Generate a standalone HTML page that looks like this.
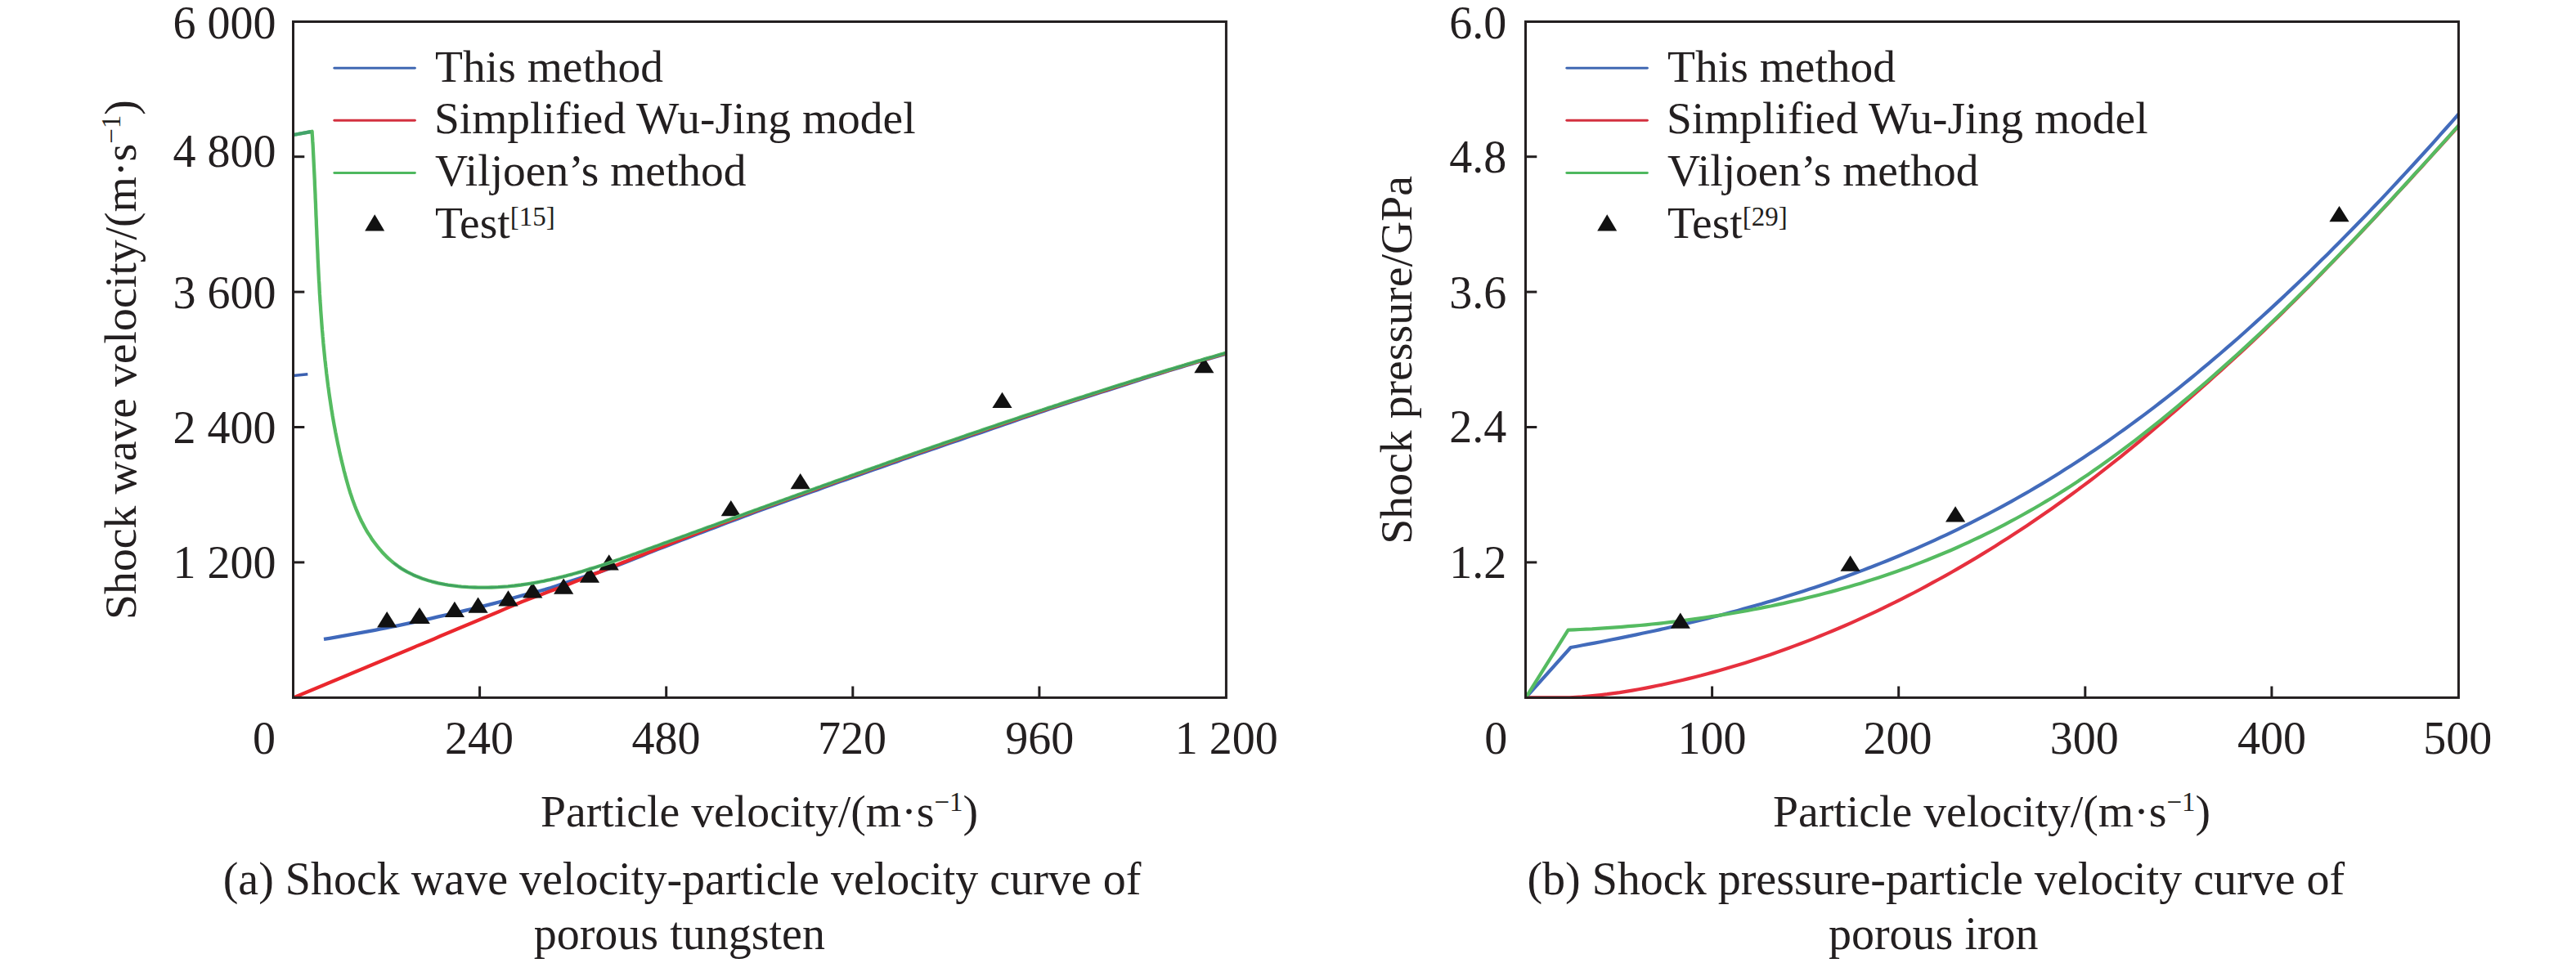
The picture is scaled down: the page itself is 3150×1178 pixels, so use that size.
<!DOCTYPE html>
<html lang="en"><head><meta charset="utf-8"><title>Shock curves of porous tungsten and porous iron</title>
<style>html,body{margin:0;padding:0;background:#fff}body{width:3150px;height:1178px}svg{display:block}text{font-family:"Liberation Serif",serif;font-size:56px;fill:#231f20}.sup{font-size:33px}.lg text{font-size:55.5px}text.ttl{font-size:55.75px}.lg .sup{font-size:33px}.c{fill:none;stroke-width:4.2;stroke-linejoin:round;stroke-linecap:butt}.c2{fill:none;stroke-linejoin:round;stroke-linecap:butt}</style></head><body>
<svg width="3150" height="1178" viewBox="0 0 3150 1178">
<rect width="3150" height="1178" fill="#fff"/>
<defs><clipPath id="ca"><rect x="357" y="25" width="1143.9" height="829.9"/></clipPath><clipPath id="cb"><rect x="1864" y="25" width="1143.9" height="829.9"/></clipPath></defs>
<g id="plot-a">
<g clip-path="url(#ca)">
<g stroke-width="4.3"><path class="c2" stroke="#3f68bb" d="M396.0,781.9 L402.9,780.8 L409.9,779.6 L416.8,778.4 L423.8,777.2 L430.7,775.9 L437.6,774.7 L444.6,773.4 L451.5,772.1 L458.5,770.8 L465.4,769.4 L472.3,768.1 L479.3,766.7 L486.2,765.3 L493.1,763.8 L500.1,762.4 L507.0,760.9 L514.0,759.4 L520.9,757.8 L527.8,756.3 L534.8,754.7 L541.7,753.1 L548.7,751.5 L555.6,749.9 L562.5,748.3 L569.5,746.7 L576.4,745.0 L583.4,743.3 L590.3,741.6 L597.2,739.9 L604.2,738.1 L611.1,736.2 L618.0,734.3 L625.0,732.3 L631.9,730.3 L638.9,728.4 L645.8,726.6 L652.7,724.8 L659.7,723.0 L666.6,721.1 L673.6,719.0 L680.5,716.7 L687.4,714.4 L694.4,712.1 L701.3,709.8 L708.3,707.5 L715.2,705.3 L722.1,703.2 L729.1,701.0 L736.0,698.7 L742.9,696.3 L749.9,693.7 L756.8,691.0 L763.8,688.3 L770.7,685.5 L777.6,682.7 L784.6,679.9 L791.5,677.1 L798.5,674.3 L805.4,671.6 L812.3,668.9 L819.3,666.2 L826.2,663.5 L833.2,660.8 L840.1,658.2 L847.0,655.5 L854.0,652.8 L860.9,650.2 L867.9,647.6 L874.8,644.9 L881.7,642.3 L888.7,639.6 L895.6,637.0 L902.5,634.4 L909.5,631.8 L916.4,629.2 L923.4,626.6 L930.3,624.1 L937.2,621.5 L944.2,619.0 L951.1,616.5 L958.1,614.0 L965.0,611.5 L971.9,609.0 L978.9,606.5 L985.8,604.0 L992.8,601.5 L999.7,599.1 L1006.6,596.6 L1013.6,594.1 L1020.5,591.6 L1027.4,589.1 L1034.4,586.7 L1041.3,584.2 L1048.3,581.7 L1055.2,579.3 L1062.1,576.8 L1069.1,574.3 L1076.0,571.9 L1083.0,569.4 L1089.9,567.0 L1096.8,564.6 L1103.8,562.1 L1110.7,559.7 L1117.7,557.3 L1124.6,554.8 L1131.5,552.4 L1138.5,550.0 L1145.4,547.6 L1152.4,545.2 L1159.3,542.8 L1166.2,540.5 L1173.2,538.1 L1180.1,535.7 L1187.0,533.3 L1194.0,531.0 L1200.9,528.6 L1207.9,526.2 L1214.8,523.8 L1221.7,521.4 L1228.7,519.0 L1235.6,516.6 L1242.6,514.2 L1249.5,511.8 L1256.4,509.5 L1263.4,507.1 L1270.3,504.7 L1277.3,502.4 L1284.2,500.0 L1291.1,497.7 L1298.1,495.4 L1305.0,493.2 L1311.9,490.9 L1318.9,488.7 L1325.8,486.5 L1332.8,484.2 L1339.7,482.0 L1346.6,479.8 L1353.6,477.6 L1360.5,475.4 L1367.5,473.2 L1374.4,470.9 L1381.3,468.7 L1388.3,466.5 L1395.2,464.2 L1402.2,462.0 L1409.1,459.8 L1416.0,457.6 L1423.0,455.4 L1429.9,453.3 L1436.8,451.2 L1443.8,449.1 L1450.7,447.0 L1457.7,444.9 L1464.6,442.8 L1471.5,440.8 L1478.5,438.7 L1485.4,436.7 L1492.4,434.7 L1499.3,432.7"/>
<path class="c2" stroke-width="3.4" stroke="#3b60b0" d="M358.8,459.5 L376.3,457.8"/>
<path class="c2" stroke="#ea272d" d="M358.8,853.4 L366.0,850.4 L373.1,847.4 L380.3,844.4 L387.5,841.5 L394.7,838.5 L401.8,835.5 L409.0,832.5 L416.2,829.5 L423.4,826.5 L430.5,823.5 L437.7,820.5 L444.9,817.5 L452.0,814.5 L459.2,811.5 L466.4,808.5 L473.6,805.5 L480.7,802.5 L487.9,799.5 L495.1,796.5 L502.3,793.5 L509.4,790.4 L516.6,787.4 L523.8,784.4 L531.0,781.4 L538.1,778.3 L545.3,775.3 L552.5,772.3 L559.6,769.2 L566.8,766.2 L574.0,763.2 L581.2,760.2 L588.3,757.2 L595.5,754.2 L602.7,751.2 L609.9,748.2 L617.0,745.1 L624.2,742.1 L631.4,739.1 L638.5,736.1 L645.7,733.3 L652.9,730.5 L660.1,727.9 L667.2,725.3 L674.4,722.6 L681.6,719.9 L688.8,717.2 L695.9,714.4 L703.1,711.6 L710.3,708.8 L717.4,705.9 L724.6,703.1 L731.8,700.2 L739.0,697.3 L746.1,694.4 L753.3,691.5 L760.5,688.6 L767.7,685.7 L774.8,682.8 L782.0,679.9 L789.2,677.0 L796.4,674.2 L803.5,671.3 L810.7,668.4 L817.9,665.6 L825.0,662.7 L832.2,659.9 L839.4,657.1 L846.6,654.2 L853.7,651.4 L860.9,648.6 L868.1,645.9 L875.3,643.1 L882.4,640.4 L889.6,637.7 L896.8,634.9 L903.9,632.3 L911.1,629.6 L918.3,626.9 L925.5,624.2 L932.6,621.6 L939.8,619.0 L947.0,616.4 L954.2,613.8 L961.3,611.2 L968.5,608.6 L975.7,606.1 L982.8,603.5 L990.0,600.9 L997.2,598.4 L1004.4,595.8 L1011.5,593.2 L1018.7,590.7 L1025.9,588.1 L1033.1,585.5 L1040.2,583.0 L1047.4,580.4 L1054.6,577.9 L1061.7,575.3 L1068.9,572.8 L1076.1,570.3 L1083.3,567.7 L1090.4,565.2 L1097.6,562.7 L1104.8,560.2 L1112.0,557.7 L1119.1,555.1 L1126.3,552.6 L1133.5,550.2 L1140.7,547.7 L1147.8,545.2 L1155.0,542.7 L1162.2,540.2 L1169.3,537.8 L1176.5,535.3 L1183.7,532.8 L1190.9,530.4 L1198.0,527.9 L1205.2,525.5 L1212.4,523.1 L1219.6,520.6 L1226.7,518.2 L1233.9,515.8 L1241.1,513.4 L1248.2,511.0 L1255.4,508.6 L1262.6,506.2 L1269.8,503.8 L1276.9,501.4 L1284.1,499.0 L1291.3,496.7 L1298.5,494.3 L1305.6,492.0 L1312.8,489.7 L1320.0,487.4 L1327.1,485.0 L1334.3,482.7 L1341.5,480.4 L1348.7,478.2 L1355.8,475.9 L1363.0,473.6 L1370.2,471.3 L1377.4,469.1 L1384.5,466.8 L1391.7,464.5 L1398.9,462.3 L1406.1,460.0 L1413.2,457.8 L1420.4,455.6 L1427.6,453.4 L1434.7,451.2 L1441.9,449.0 L1449.1,446.9 L1456.3,444.7 L1463.4,442.6 L1470.6,440.5 L1477.8,438.4 L1485.0,436.3 L1492.1,434.2 L1499.3,432.1"/></g>
<g fill="#111"><path d="M461.1,767.4 L485.3,767.4 L473.2,748.1Z"/><path d="M543.8,755.0 L568.0,755.0 L555.9,735.7Z"/><path d="M572.5,749.8 L596.7,749.8 L584.6,730.5Z"/><path d="M609.4,741.5 L633.6,741.5 L621.5,722.2Z"/><path d="M639.2,731.6 L663.4,731.6 L651.3,712.3Z"/><path d="M677.1,726.7 L701.3,726.7 L689.2,707.4Z"/><path d="M708.9,712.7 L733.1,712.7 L721.0,693.4Z"/><path d="M732.6,697.6 L756.8,697.6 L744.7,678.3Z"/><path d="M881.7,631.2 L905.9,631.2 L893.8,611.9Z"/><path d="M966.6,598.2 L990.8,598.2 L978.7,578.9Z"/><path d="M1213.4,499.0 L1237.6,499.0 L1225.5,479.7Z"/><path d="M1460.3,456.3 L1484.5,456.3 L1472.4,437.0Z"/><path d="M500.1,762.9 L525.9,762.9 L513.0,742.9Z"/></g>
<path class="c2" stroke-width="4.3" stroke="#55bb61" d="M358.8,165.0 L381.6,160.8 L381.8,164.8 L382.1,168.9 L382.3,172.9 L382.6,177.0 L382.8,181.0 L383.0,185.1 L383.2,189.1 L383.4,193.2 L383.6,197.2 L383.8,201.3 L384.0,205.3 L384.2,209.4 L384.4,213.4 L384.6,217.5 L384.8,221.5 L384.9,225.6 L385.1,229.6 L385.3,233.7 L385.5,237.8 L385.6,241.8 L385.8,245.9 L386.0,249.9 L386.1,254.0 L386.3,258.0 L386.4,262.1 L386.6,266.1 L386.8,270.2 L386.9,274.3 L387.1,278.3 L387.3,282.4 L387.4,286.4 L387.6,290.5 L387.8,294.5 L387.9,298.6 L388.1,302.7 L388.3,306.7 L388.5,310.8 L388.6,314.8 L388.8,318.9 L389.0,322.9 L389.2,327.0 L389.4,331.0 L389.6,335.1 L389.8,339.1 L390.0,343.2 L390.3,347.2 L390.5,351.3 L390.7,355.3 L390.9,359.4 L391.2,363.4 L391.4,367.5 L391.7,371.5 L392.0,375.6 L392.2,379.6 L392.5,383.7 L392.8,387.7 L393.1,391.7 L393.4,395.8 L393.7,399.8 L394.0,403.9 L394.4,407.9 L394.7,411.9 L395.1,416.0 L395.4,420.0 L395.8,424.0 L396.2,428.1 L396.6,432.1 L397.0,436.1 L397.4,440.2 L397.9,444.2 L398.3,448.2 L398.8,452.2 L399.2,456.3 L399.7,460.3 L400.2,464.3 L400.7,468.3 L401.2,472.3 L401.8,476.3 L402.3,480.3 L402.9,484.4 L403.5,488.4 L404.1,492.4 L404.7,496.4 L405.3,500.4 L406.0,504.4 L406.6,508.4 L407.3,512.4 L408.0,516.4 L408.7,520.3 L409.5,524.3 L410.2,528.3 L411.0,532.3 L411.8,536.3 L412.6,540.3 L413.4,544.2 L414.3,548.2 L415.1,552.2 L416.0,556.2 L416.9,560.1 L417.8,564.1 L418.8,568.1 L419.8,572.0 L420.7,576.0 L421.8,579.9 L422.8,583.9 L423.9,587.8 L425.0,591.8 L426.1,595.7 L427.3,599.6 L428.5,603.5 L429.8,607.3 L431.1,611.2 L432.5,615.0 L433.9,618.8 L435.4,622.6 L437.0,626.4 L438.6,630.1 L440.3,633.8 L442.0,637.5 L443.9,641.1 L445.8,644.7 L447.8,648.3 L449.9,651.8 L452.1,655.2 L454.3,658.7 L456.6,662.0 L459.1,665.3 L461.6,668.5 L464.2,671.7 L466.8,674.7 L469.6,677.7 L472.4,680.6 L475.3,683.4 L478.3,686.0 L481.4,688.6 L484.6,691.0 L487.8,693.4 L491.1,695.6 L494.5,697.6 L498.0,699.6 L501.6,701.4 L505.2,703.2 L508.8,704.8 L512.6,706.3 L516.3,707.7 L520.2,709.0 L524.0,710.2 L527.9,711.3 L531.9,712.3 L535.9,713.3 L539.9,714.1 L543.9,714.9 L548.0,715.6 L552.1,716.2 L556.1,716.7 L560.2,717.2 L564.3,717.6 L568.4,717.9 L572.5,718.2 L576.6,718.4 L580.7,718.5 L584.8,718.7 L588.9,718.7 L592.9,718.7 L597.0,718.6 L601.0,718.5 L605.0,718.4 L609.1,718.2 L613.1,717.9 L617.1,717.6 L621.1,717.3 L625.1,716.9 L629.1,716.5 L633.1,716.0 L637.1,715.5 L641.1,714.9 L645.0,714.3 L649.0,713.7 L653.0,713.0 L656.9,712.3 L660.9,711.5 L664.8,710.8 L668.7,709.9 L672.7,709.1 L676.6,708.2 L680.5,707.3 L684.4,706.3 L688.4,705.4 L692.3,704.4 L696.2,703.3 L700.1,702.3 L704.0,701.2 L707.9,700.1 L711.8,699.0 L715.6,697.8 L719.5,696.6 L723.4,695.4 L727.3,694.2 L731.1,693.0 L735.0,691.8 L738.9,690.5 L742.7,689.2 L746.6,687.9 L750.5,686.6 L754.3,685.3 L758.2,684.0 L762.0,682.6 L765.9,681.3 L769.7,679.9 L773.6,678.5 L777.4,677.2 L781.2,675.8 L785.1,674.4 L788.9,673.0 L792.8,671.6 L796.6,670.2 L800.4,668.8 L804.3,667.4 L808.1,666.0 L811.9,664.6 L815.8,663.2 L819.6,661.8 L823.4,660.5 L827.3,659.1 L831.1,657.7 L834.9,656.3 L838.8,654.9 L842.6,653.5 L846.4,652.1 L850.3,650.7 L854.1,649.3 L857.9,647.9 L861.7,646.5 L865.6,645.1 L869.4,643.8 L873.2,642.4 L877.0,641.0 L880.9,639.6 L884.7,638.2 L888.5,636.8 L892.3,635.4 L896.1,634.0 L900.0,632.7 L903.8,631.3 L907.6,629.9 L911.4,628.5 L915.3,627.1 L919.1,625.7 L922.9,624.3 L926.7,623.0 L930.5,621.6 L934.4,620.2 L938.2,618.8 L942.0,617.4 L945.8,616.1 L949.6,614.7 L953.4,613.3 L957.3,611.9 L961.1,610.5 L964.9,609.2 L968.7,607.8 L972.5,606.4 L976.3,605.0 L980.2,603.7 L984.0,602.3 L987.8,600.9 L991.6,599.6 L995.4,598.2 L999.2,596.8 L1003.1,595.5 L1006.9,594.1 L1010.7,592.7 L1014.5,591.4 L1018.3,590.0 L1022.1,588.6 L1025.9,587.3 L1029.8,585.9 L1033.6,584.5 L1037.4,583.2 L1041.2,581.8 L1045.0,580.5 L1048.8,579.1 L1052.7,577.8 L1056.5,576.4 L1060.3,575.1 L1064.1,573.7 L1067.9,572.4 L1071.7,571.0 L1075.6,569.7 L1079.4,568.3 L1083.2,567.0 L1087.0,565.6 L1090.8,564.3 L1094.6,562.9 L1098.5,561.6 L1102.3,560.2 L1106.1,558.9 L1109.9,557.6 L1113.7,556.2 L1117.6,554.9 L1121.4,553.6 L1125.2,552.2 L1129.0,550.9 L1132.8,549.6 L1136.7,548.2 L1140.5,546.9 L1144.3,545.6 L1148.1,544.3 L1151.9,542.9 L1155.8,541.6 L1159.6,540.3 L1163.4,539.0 L1167.2,537.7 L1171.1,536.4 L1174.9,535.0 L1178.7,533.7 L1182.5,532.4 L1186.4,531.1 L1190.2,529.8 L1194.0,528.5 L1197.9,527.2 L1201.7,525.9 L1205.5,524.6 L1209.3,523.3 L1213.2,522.0 L1217.0,520.7 L1220.8,519.4 L1224.7,518.1 L1228.5,516.8 L1232.3,515.5 L1236.2,514.2 L1240.0,513.0 L1243.8,511.7 L1247.7,510.4 L1251.5,509.1 L1255.4,507.8 L1259.2,506.6 L1263.0,505.3 L1266.9,504.0 L1270.7,502.7 L1274.6,501.5 L1278.4,500.2 L1282.3,498.9 L1286.1,497.7 L1290.0,496.4 L1293.8,495.2 L1297.6,493.9 L1301.5,492.6 L1305.3,491.4 L1309.2,490.1 L1313.0,488.9 L1316.9,487.6 L1320.8,486.4 L1324.6,485.2 L1328.5,483.9 L1332.3,482.7 L1336.2,481.4 L1340.0,480.2 L1343.9,479.0 L1347.8,477.7 L1351.6,476.5 L1355.5,475.3 L1359.3,474.1 L1363.2,472.8 L1367.1,471.6 L1370.9,470.4 L1374.8,469.2 L1378.7,468.0 L1382.6,466.8 L1386.4,465.6 L1390.3,464.4 L1394.2,463.2 L1398.1,461.9 L1401.9,460.8 L1405.8,459.6 L1409.7,458.4 L1413.6,457.2 L1417.5,456.0 L1421.3,454.8 L1425.2,453.6 L1429.1,452.4 L1433.0,451.2 L1436.9,450.1 L1440.8,448.9 L1444.7,447.7 L1448.6,446.6 L1452.5,445.4 L1456.3,444.2 L1460.2,443.1 L1464.1,441.9 L1468.0,440.8 L1471.9,439.6 L1475.8,438.4 L1479.8,437.3 L1483.7,436.2 L1487.6,435.0 L1491.5,433.9 L1495.4,432.7 L1499.3,431.6"/>
<path class="c2" stroke-width="2.1" stroke="#3a9862" stroke-opacity="0.85" d="M481.4,688.6 L484.6,691.0 L487.8,693.4 L491.1,695.6 L494.5,697.6 L498.0,699.6 L501.6,701.4 L505.2,703.2 L508.8,704.8 L512.6,706.3 L516.3,707.7 L520.2,709.0 L524.0,710.2 L527.9,711.3 L531.9,712.3 L535.9,713.3 L539.9,714.1 L543.9,714.9 L548.0,715.6 L552.1,716.2 L556.1,716.7 L560.2,717.2 L564.3,717.6 L568.4,717.9 L572.5,718.2 L576.6,718.4 L580.7,718.5 L584.8,718.7 L588.9,718.7 L592.9,718.7 L597.0,718.6 L601.0,718.5 L605.0,718.4 L609.1,718.2 L613.1,717.9 L617.1,717.6 L621.1,717.3 L625.1,716.9 L629.1,716.5 L633.1,716.0 L637.1,715.5 L641.1,714.9 L645.0,714.3 L649.0,713.7 L653.0,713.0 L656.9,712.3 L660.9,711.5 L664.8,710.8 L668.7,709.9 L672.7,709.1 L676.6,708.2 L680.5,707.3 L684.4,706.3 L688.4,705.4 L692.3,704.4 L696.2,703.3 L700.1,702.3 L704.0,701.2 L707.9,700.1 L711.8,699.0 L715.6,697.8 L719.5,696.6 L723.4,695.4 L727.3,694.2 L731.1,693.0 L735.0,691.8 L738.9,690.5 L742.7,689.2 L746.6,687.9 L750.5,686.6 L754.3,685.3 L758.2,684.0 L762.0,682.6 L765.9,681.3 L769.7,679.9 L773.6,678.5 L777.4,677.2 L781.2,675.8 L785.1,674.4 L788.9,673.0 L792.8,671.6 L796.6,670.2 L800.4,668.8 L804.3,667.4 L808.1,666.0 L811.9,664.6 L815.8,663.2 L819.6,661.8 L823.4,660.5 L827.3,659.1 L831.1,657.7 L834.9,656.3 L838.8,654.9 L842.6,653.5 L846.4,652.1 L850.3,650.7 L854.1,649.3 L857.9,647.9 L861.7,646.5 L865.6,645.1 L869.4,643.8 L873.2,642.4 L877.0,641.0 L880.9,639.6 L884.7,638.2 L888.5,636.8 L892.3,635.4 L896.1,634.0 L900.0,632.7 L903.8,631.3 L907.6,629.9 L911.4,628.5 L915.3,627.1 L919.1,625.7 L922.9,624.3 L926.7,623.0 L930.5,621.6 L934.4,620.2 L938.2,618.8 L942.0,617.4 L945.8,616.1 L949.6,614.7 L953.4,613.3 L957.3,611.9 L961.1,610.5 L964.9,609.2 L968.7,607.8 L972.5,606.4 L976.3,605.0 L980.2,603.7 L984.0,602.3 L987.8,600.9 L991.6,599.6 L995.4,598.2 L999.2,596.8 L1003.1,595.5 L1006.9,594.1 L1010.7,592.7 L1014.5,591.4 L1018.3,590.0 L1022.1,588.6 L1025.9,587.3 L1029.8,585.9 L1033.6,584.5 L1037.4,583.2 L1041.2,581.8 L1045.0,580.5 L1048.8,579.1 L1052.7,577.8 L1056.5,576.4 L1060.3,575.1 L1064.1,573.7 L1067.9,572.4 L1071.7,571.0 L1075.6,569.7 L1079.4,568.3 L1083.2,567.0 L1087.0,565.6 L1090.8,564.3 L1094.6,562.9 L1098.5,561.6 L1102.3,560.2 L1106.1,558.9 L1109.9,557.6 L1113.7,556.2 L1117.6,554.9 L1121.4,553.6 L1125.2,552.2 L1129.0,550.9 L1132.8,549.6 L1136.7,548.2 L1140.5,546.9 L1144.3,545.6 L1148.1,544.3 L1151.9,542.9 L1155.8,541.6 L1159.6,540.3 L1163.4,539.0 L1167.2,537.7 L1171.1,536.4 L1174.9,535.0 L1178.7,533.7 L1182.5,532.4 L1186.4,531.1 L1190.2,529.8 L1194.0,528.5 L1197.9,527.2 L1201.7,525.9 L1205.5,524.6 L1209.3,523.3 L1213.2,522.0 L1217.0,520.7 L1220.8,519.4 L1224.7,518.1 L1228.5,516.8 L1232.3,515.5 L1236.2,514.2 L1240.0,513.0 L1243.8,511.7 L1247.7,510.4 L1251.5,509.1 L1255.4,507.8 L1259.2,506.6 L1263.0,505.3 L1266.9,504.0 L1270.7,502.7 L1274.6,501.5 L1278.4,500.2 L1282.3,498.9 L1286.1,497.7 L1290.0,496.4 L1293.8,495.2 L1297.6,493.9 L1301.5,492.6 L1305.3,491.4 L1309.2,490.1 L1313.0,488.9 L1316.9,487.6 L1320.8,486.4 L1324.6,485.2 L1328.5,483.9 L1332.3,482.7 L1336.2,481.4 L1340.0,480.2 L1343.9,479.0 L1347.8,477.7 L1351.6,476.5 L1355.5,475.3 L1359.3,474.1 L1363.2,472.8 L1367.1,471.6 L1370.9,470.4 L1374.8,469.2 L1378.7,468.0 L1382.6,466.8 L1386.4,465.6 L1390.3,464.4 L1394.2,463.2 L1398.1,461.9 L1401.9,460.8 L1405.8,459.6 L1409.7,458.4 L1413.6,457.2 L1417.5,456.0 L1421.3,454.8 L1425.2,453.6 L1429.1,452.4 L1433.0,451.2 L1436.9,450.1 L1440.8,448.9 L1444.7,447.7 L1448.6,446.6 L1452.5,445.4 L1456.3,444.2 L1460.2,443.1 L1464.1,441.9 L1468.0,440.8 L1471.9,439.6 L1475.8,438.4 L1479.8,437.3 L1483.7,436.2 L1487.6,435.0 L1491.5,433.9 L1495.4,432.7 L1499.3,431.6"/>
<path class="c2" stroke-width="4.3" stroke="#3f9f6c" stroke-opacity="0.85" d="M358.8,165.0 L379.8,161.1"/>
</g>
<g stroke="#231f20" stroke-width="3" fill="none"><rect x="358.5" y="26.5" width="1140.9" height="826.9"/><path d="M358.5,687.9 h13.8"/><path d="M586.6,853.4 v-13.9"/><path d="M358.5,522.5 h13.8"/><path d="M814.7,853.4 v-13.9"/><path d="M358.5,357.1 h13.8"/><path d="M1042.8,853.4 v-13.9"/><path d="M358.5,191.7 h13.8"/><path d="M1270.9,853.4 v-13.9"/></g>
<g stroke-width="2.9" fill="none" stroke-linecap="round"><path d="M408.8,83.3 H507.4" stroke="#4068b3"/><path d="M408.8,147.3 H507.4" stroke="#d3303f"/><path d="M408.8,211.5 H507.4" stroke="#4fb85f"/></g><g fill="#111"><path d="M446.2,282.6 L470.2,282.6 L458.2,262.2Z"/></g><g class="lg"><text x="532.1" y="100.3">This method</text><text x="530.9" y="163.3">Simplified Wu-Jing model</text><text x="532.1" y="227">Viljoen’s method</text><text x="532.1" y="290.9">Test<tspan class="sup" dy="-15.4">[15]</tspan></text></g>
<text x="337.4" y="46.6" text-anchor="end">6 000</text>
<text x="337.4" y="203.6" text-anchor="end">4 800</text>
<text x="337.4" y="376.5" text-anchor="end">3 600</text>
<text x="337.4" y="541.6" text-anchor="end">2 400</text>
<text x="337.4" y="706.5" text-anchor="end">1 200</text>
<text x="322.9" y="922" text-anchor="middle">0</text>
<text x="586.0" y="922" text-anchor="middle">240</text>
<text x="814.6" y="922" text-anchor="middle">480</text>
<text x="1042.0" y="922" text-anchor="middle">720</text>
<text x="1271.3" y="922" text-anchor="middle">960</text>
<text x="1499.8" y="922" text-anchor="middle">1 200</text>
<text class="ttl" x="928.6" y="1011" text-anchor="middle">Particle velocity/(m·s<tspan class="sup" dy="-19.3">−1</tspan><tspan dy="19.3">)</tspan></text>
<text class="ttl" transform="translate(166.0 440.0) rotate(-90)" text-anchor="middle">Shock wave velocity/(m·s<tspan class="sup" dy="-19.3">−1</tspan><tspan dy="19.3">)</tspan></text>
<text x="834.0" y="1094.2" text-anchor="middle">(a) Shock wave velocity-particle velocity curve of</text>
<text x="830.8" y="1161.2" text-anchor="middle">porous tungsten</text>
</g>
<g id="plot-b">
<g clip-path="url(#cb)">
<path class="c" stroke="#426bbb" d="M1865.8,853.4 L1920.7,792.0 L1928.0,790.7 L1935.3,789.3 L1942.6,787.9 L1949.8,786.6 L1957.1,785.2 L1964.4,783.8 L1971.7,782.3 L1979.0,780.9 L1986.3,779.4 L1993.6,777.9 L2000.9,776.4 L2008.1,774.8 L2015.4,773.3 L2022.7,771.7 L2030.0,770.1 L2037.3,768.5 L2044.6,766.8 L2051.9,765.2 L2059.2,763.5 L2066.4,761.7 L2073.7,760.0 L2081.0,758.2 L2088.3,756.4 L2095.6,754.5 L2102.9,752.7 L2110.2,750.8 L2117.5,748.9 L2124.7,746.9 L2132.0,744.9 L2139.3,742.9 L2146.6,740.8 L2153.9,738.8 L2161.2,736.6 L2168.5,734.5 L2175.8,732.3 L2183.0,730.1 L2190.3,727.8 L2197.6,725.5 L2204.9,723.2 L2212.2,720.8 L2219.5,718.4 L2226.8,715.9 L2234.1,713.4 L2241.3,710.9 L2248.6,708.3 L2255.9,705.7 L2263.2,703.0 L2270.5,700.3 L2277.8,697.6 L2285.1,694.8 L2292.3,692.0 L2299.6,689.1 L2306.9,686.2 L2314.2,683.2 L2321.5,680.2 L2328.8,677.1 L2336.1,674.0 L2343.4,670.8 L2350.6,667.6 L2357.9,664.4 L2365.2,661.1 L2372.5,657.7 L2379.8,654.3 L2387.1,650.8 L2394.4,647.3 L2401.7,643.7 L2408.9,640.1 L2416.2,636.4 L2423.5,632.7 L2430.8,628.9 L2438.1,625.0 L2445.4,621.1 L2452.7,617.1 L2460.0,613.1 L2467.2,609.0 L2474.5,604.9 L2481.8,600.7 L2489.1,596.4 L2496.4,592.1 L2503.7,587.7 L2511.0,583.2 L2518.3,578.7 L2525.5,574.1 L2532.8,569.5 L2540.1,564.8 L2547.4,560.0 L2554.7,555.1 L2562.0,550.2 L2569.3,545.3 L2576.6,540.2 L2583.8,535.1 L2591.1,529.9 L2598.4,524.7 L2605.7,519.4 L2613.0,514.0 L2620.3,508.6 L2627.6,503.1 L2634.9,497.6 L2642.1,492.0 L2649.4,486.3 L2656.7,480.6 L2664.0,474.8 L2671.3,468.9 L2678.6,463.0 L2685.9,457.0 L2693.1,450.9 L2700.4,444.8 L2707.7,438.7 L2715.0,432.5 L2722.3,426.2 L2729.6,419.9 L2736.9,413.5 L2744.2,407.0 L2751.4,400.5 L2758.7,393.9 L2766.0,387.3 L2773.3,380.6 L2780.6,373.9 L2787.9,367.1 L2795.2,360.3 L2802.5,353.4 L2809.7,346.4 L2817.0,339.4 L2824.3,332.4 L2831.6,325.2 L2838.9,318.1 L2846.2,310.9 L2853.5,303.6 L2860.8,296.3 L2868.0,288.9 L2875.3,281.5 L2882.6,274.0 L2889.9,266.5 L2897.2,258.9 L2904.5,251.3 L2911.8,243.6 L2919.1,235.9 L2926.3,228.1 L2933.6,220.3 L2940.9,212.4 L2948.2,204.5 L2955.5,196.5 L2962.8,188.5 L2970.1,180.5 L2977.4,172.4 L2984.6,164.2 L2991.9,156.0 L2999.2,147.8 L3006.5,139.5"/>
<path class="c" stroke="#e6303e" d="M1865.8,853.4 L1873.5,853.4 L1881.1,853.4 L1888.8,853.4 L1896.4,853.4 L1904.1,853.4 L1911.7,853.4 L1919.4,853.3 L1927.0,852.8 L1934.7,852.3 L1942.4,851.6 L1950.0,850.9 L1957.7,850.1 L1965.3,849.2 L1973.0,848.1 L1980.6,847.1 L1988.3,845.9 L1995.9,844.6 L2003.6,843.3 L2011.3,841.9 L2018.9,840.4 L2026.6,838.8 L2034.2,837.2 L2041.9,835.5 L2049.5,833.8 L2057.2,832.0 L2064.8,830.1 L2072.5,828.2 L2080.2,826.3 L2087.8,824.2 L2095.5,822.1 L2103.1,820.0 L2110.8,817.8 L2118.4,815.6 L2126.1,813.3 L2133.7,810.9 L2141.4,808.5 L2149.1,806.0 L2156.7,803.4 L2164.4,800.9 L2172.0,798.2 L2179.7,795.5 L2187.3,792.7 L2195.0,789.9 L2202.7,787.0 L2210.3,784.1 L2218.0,781.1 L2225.6,778.0 L2233.3,774.9 L2240.9,771.7 L2248.6,768.5 L2256.2,765.2 L2263.9,761.8 L2271.6,758.4 L2279.2,754.9 L2286.9,751.4 L2294.5,747.8 L2302.2,744.2 L2309.8,740.4 L2317.5,736.7 L2325.1,732.8 L2332.8,728.9 L2340.5,725.0 L2348.1,721.0 L2355.8,716.9 L2363.4,712.7 L2371.1,708.5 L2378.7,704.3 L2386.4,700.0 L2394.0,695.6 L2401.7,691.1 L2409.4,686.6 L2417.0,682.1 L2424.7,677.4 L2432.3,672.7 L2440.0,668.0 L2447.6,663.1 L2455.3,658.2 L2462.9,653.3 L2470.6,648.3 L2478.3,643.2 L2485.9,638.0 L2493.6,632.8 L2501.2,627.5 L2508.9,622.2 L2516.5,616.8 L2524.2,611.3 L2531.8,605.7 L2539.5,600.1 L2547.2,594.4 L2554.8,588.7 L2562.5,582.8 L2570.1,576.9 L2577.8,570.9 L2585.4,564.9 L2593.1,558.8 L2600.7,552.6 L2608.4,546.3 L2616.1,540.0 L2623.7,533.6 L2631.4,527.1 L2639.0,520.6 L2646.7,514.1 L2654.3,507.5 L2662.0,500.8 L2669.6,494.2 L2677.3,487.4 L2685.0,480.7 L2692.6,473.9 L2700.3,467.1 L2707.9,460.3 L2715.6,453.4 L2723.2,446.5 L2730.9,439.5 L2738.6,432.5 L2746.2,425.4 L2753.9,418.2 L2761.5,411.0 L2769.2,403.7 L2776.8,396.3 L2784.5,388.9 L2792.1,381.4 L2799.8,373.8 L2807.5,366.2 L2815.1,358.6 L2822.8,350.9 L2830.4,343.1 L2838.1,335.3 L2845.7,327.4 L2853.4,319.5 L2861.0,311.6 L2868.7,303.6 L2876.4,295.5 L2884.0,287.5 L2891.7,279.3 L2899.3,271.2 L2907.0,263.0 L2914.6,254.8 L2922.3,246.5 L2929.9,238.2 L2937.6,229.9 L2945.3,221.6 L2952.9,213.2 L2960.6,204.8 L2968.2,196.4 L2975.9,187.9 L2983.5,179.5 L2991.2,171.0 L2998.8,162.5 L3006.5,154.0"/>
<path class="c" stroke="#55bb61" d="M1865.8,853.4 L1917.6,770.6 L1924.9,770.3 L1932.2,770.0 L1939.5,769.6 L1946.8,769.3 L1954.1,768.8 L1961.4,768.4 L1968.8,767.9 L1976.1,767.4 L1983.4,766.8 L1990.7,766.2 L1998.0,765.6 L2005.3,765.0 L2012.6,764.3 L2019.9,763.5 L2027.2,762.8 L2034.5,762.0 L2041.8,761.1 L2049.1,760.3 L2056.5,759.3 L2063.8,758.4 L2071.1,757.4 L2078.4,756.4 L2085.7,755.3 L2093.0,754.2 L2100.3,753.1 L2107.6,751.9 L2114.9,750.7 L2122.2,749.5 L2129.5,748.2 L2136.8,746.9 L2144.1,745.5 L2151.5,744.1 L2158.8,742.6 L2166.1,741.2 L2173.4,739.6 L2180.7,738.1 L2188.0,736.4 L2195.3,734.8 L2202.6,733.1 L2209.9,731.3 L2217.2,729.5 L2224.5,727.7 L2231.8,725.8 L2239.2,723.9 L2246.5,721.9 L2253.8,719.8 L2261.1,717.7 L2268.4,715.6 L2275.7,713.4 L2283.0,711.1 L2290.3,708.8 L2297.6,706.4 L2304.9,704.0 L2312.2,701.5 L2319.5,698.9 L2326.9,696.3 L2334.2,693.7 L2341.5,690.9 L2348.8,688.1 L2356.1,685.3 L2363.4,682.3 L2370.7,679.3 L2378.0,676.3 L2385.3,673.2 L2392.6,670.0 L2399.9,666.7 L2407.2,663.4 L2414.5,659.9 L2421.9,656.5 L2429.2,652.9 L2436.5,649.3 L2443.8,645.6 L2451.1,641.8 L2458.4,637.9 L2465.7,634.0 L2473.0,630.0 L2480.3,625.9 L2487.6,621.7 L2494.9,617.5 L2502.2,613.1 L2509.6,608.7 L2516.9,604.2 L2524.2,599.6 L2531.5,594.9 L2538.8,590.2 L2546.1,585.3 L2553.4,580.4 L2560.7,575.3 L2568.0,570.2 L2575.3,565.0 L2582.6,559.8 L2589.9,554.4 L2597.2,549.0 L2604.6,543.4 L2611.9,537.8 L2619.2,532.2 L2626.5,526.5 L2633.8,520.7 L2641.1,514.8 L2648.4,508.9 L2655.7,502.9 L2663.0,496.8 L2670.3,490.7 L2677.6,484.6 L2684.9,478.4 L2692.3,472.1 L2699.6,465.8 L2706.9,459.4 L2714.2,452.9 L2721.5,446.4 L2728.8,439.9 L2736.1,433.3 L2743.4,426.6 L2750.7,419.9 L2758.0,413.1 L2765.3,406.2 L2772.6,399.3 L2780.0,392.3 L2787.3,385.3 L2794.6,378.2 L2801.9,371.1 L2809.2,363.8 L2816.5,356.6 L2823.8,349.3 L2831.1,341.9 L2838.4,334.5 L2845.7,327.0 L2853.0,319.5 L2860.3,311.9 L2867.6,304.3 L2875.0,296.7 L2882.3,289.0 L2889.6,281.2 L2896.9,273.5 L2904.2,265.7 L2911.5,257.8 L2918.8,250.0 L2926.1,242.1 L2933.4,234.1 L2940.7,226.2 L2948.0,218.2 L2955.3,210.2 L2962.7,202.1 L2970.0,194.1 L2977.3,186.0 L2984.6,177.9 L2991.9,169.8 L2999.2,161.6 L3006.5,153.5"/>
<g fill="#111"><path d="M2042.7,768.8 L2066.9,768.8 L2054.8,749.5Z"/><path d="M2250.5,698.8 L2274.7,698.8 L2262.6,679.5Z"/><path d="M2379.0,638.5 L2403.2,638.5 L2391.1,619.2Z"/><path d="M2848.4,271.2 L2872.6,271.2 L2860.5,251.9Z"/></g>
</g>
<g stroke="#231f20" stroke-width="3" fill="none"><rect x="1865.5" y="26.5" width="1140.9" height="826.9"/><path d="M1865.5,687.9 h13.8"/><path d="M2093.6,853.4 v-13.9"/><path d="M1865.5,522.5 h13.8"/><path d="M2321.7,853.4 v-13.9"/><path d="M1865.5,357.1 h13.8"/><path d="M2549.8,853.4 v-13.9"/><path d="M1865.5,191.7 h13.8"/><path d="M2777.9,853.4 v-13.9"/></g>
<g stroke-width="2.9" fill="none" stroke-linecap="round"><path d="M1915.8,83.3 H2014.4" stroke="#4068b3"/><path d="M1915.8,147.3 H2014.4" stroke="#d3303f"/><path d="M1915.8,211.5 H2014.4" stroke="#4fb85f"/></g><g fill="#111"><path d="M1953.2,282.6 L1977.2,282.6 L1965.2,262.2Z"/></g><g class="lg"><text x="2039.1" y="100.3">This method</text><text x="2037.9" y="163.3">Simplified Wu-Jing model</text><text x="2039.1" y="227">Viljoen’s method</text><text x="2039.1" y="290.9">Test<tspan class="sup" dy="-15.4">[29]</tspan></text></g>
<text x="1842.2" y="46.7" text-anchor="end">6.0</text>
<text x="1842.2" y="211.4" text-anchor="end">4.8</text>
<text x="1842.2" y="377" text-anchor="end">3.6</text>
<text x="1842.2" y="541.3" text-anchor="end">2.4</text>
<text x="1842.2" y="706.5" text-anchor="end">1.2</text>
<text x="1829.2" y="922" text-anchor="middle">0</text>
<text x="2093.5" y="922" text-anchor="middle">100</text>
<text x="2320.4" y="922" text-anchor="middle">200</text>
<text x="2548.8" y="922" text-anchor="middle">300</text>
<text x="2778.0" y="922" text-anchor="middle">400</text>
<text x="3005.3" y="922" text-anchor="middle">500</text>
<text class="ttl" x="2435.6" y="1011" text-anchor="middle">Particle velocity/(m·s<tspan class="sup" dy="-19.3">−1</tspan><tspan dy="19.3">)</tspan></text>
<text class="ttl" transform="translate(1725.8 440.4) rotate(-90)" text-anchor="middle">Shock pressure/GPa</text>
<text x="2367.3" y="1094.2" text-anchor="middle">(b) Shock pressure-particle velocity curve of</text>
<text x="2364.3" y="1161.2" text-anchor="middle">porous iron</text>
</g>
</svg></body></html>
